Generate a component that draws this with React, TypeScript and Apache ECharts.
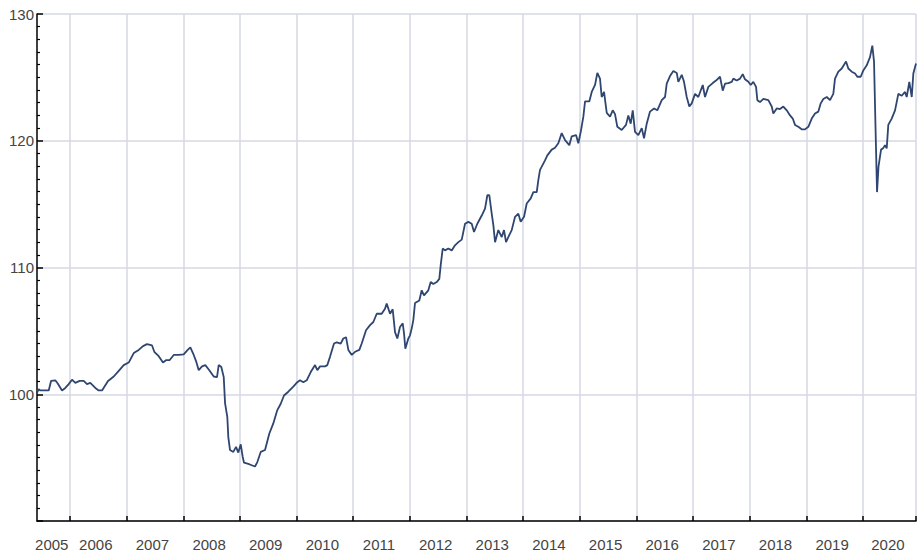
import React, { useEffect, useRef } from "react";
import * as echarts from "echarts";

// decimal year of each observation
const dates: number[] = [
  2005.417, 2005.447, 2005.476, 2005.564, 2005.624, 2005.665, 2005.740, 2005.783, 2005.859, 2005.917,
  2005.977, 2006.035, 2006.094, 2006.171, 2006.242, 2006.300, 2006.358, 2006.447, 2006.507, 2006.565,
  2006.671, 2006.772, 2006.860, 2006.948, 2007.036, 2007.125, 2007.213, 2007.289, 2007.359, 2007.448,
  2007.488, 2007.566, 2007.642, 2007.700, 2007.760, 2007.831, 2007.919, 2008.007, 2008.078, 2008.124,
  2008.184, 2008.230, 2008.272, 2008.331, 2008.389, 2008.449, 2008.537, 2008.595, 2008.625, 2008.671,
  2008.714, 2008.737, 2008.777, 2008.795, 2008.825, 2008.883, 2008.931, 2008.971, 2009.014, 2009.049,
  2009.072, 2009.148, 2009.208, 2009.266, 2009.307, 2009.367, 2009.443, 2009.519, 2009.589, 2009.660,
  2009.720, 2009.778, 2009.854, 2009.942, 2010.013, 2010.061, 2010.119, 2010.179, 2010.250, 2010.326,
  2010.366, 2010.414, 2010.502, 2010.543, 2010.590, 2010.661, 2010.709, 2010.779, 2010.825, 2010.873,
  2010.914, 2010.974, 2011.032, 2011.108, 2011.150, 2011.226, 2011.297, 2011.355, 2011.415, 2011.503,
  2011.561, 2011.591, 2011.650, 2011.697, 2011.738, 2011.779, 2011.826, 2011.874, 2011.897, 2011.920,
  2011.973, 2012.003, 2012.033, 2012.061, 2012.091, 2012.167, 2012.209, 2012.250, 2012.326, 2012.368,
  2012.414, 2012.474, 2012.520, 2012.545, 2012.580, 2012.621, 2012.679, 2012.739, 2012.797, 2012.856,
  2012.916, 2012.974, 2013.032, 2013.092, 2013.133, 2013.191, 2013.269, 2013.327, 2013.368, 2013.403,
  2013.445, 2013.474, 2013.504, 2013.562, 2013.622, 2013.662, 2013.698, 2013.738, 2013.798, 2013.857,
  2013.915, 2013.957, 2014.016, 2014.063, 2014.134, 2014.180, 2014.240, 2014.268, 2014.298, 2014.386,
  2014.427, 2014.505, 2014.563, 2014.621, 2014.681, 2014.740, 2014.815, 2014.858, 2014.934, 2014.974,
  2015.017, 2015.063, 2015.093, 2015.168, 2015.211, 2015.269, 2015.310, 2015.357, 2015.387, 2015.428,
  2015.476, 2015.534, 2015.582, 2015.622, 2015.663, 2015.740, 2015.816, 2015.857, 2015.899, 2015.935,
  2015.975, 2016.034, 2016.094, 2016.134, 2016.182, 2016.240, 2016.311, 2016.369, 2016.447, 2016.505,
  2016.535, 2016.593, 2016.652, 2016.712, 2016.740, 2016.800, 2016.840, 2016.888, 2016.934, 2016.976,
  2017.035, 2017.093, 2017.171, 2017.211, 2017.270, 2017.347, 2017.405, 2017.476, 2017.524, 2017.564,
  2017.623, 2017.683, 2017.711, 2017.771, 2017.829, 2017.877, 2017.917, 2017.976, 2018.018, 2018.064,
  2018.112, 2018.135, 2018.182, 2018.241, 2018.329, 2018.389, 2018.417, 2018.477, 2018.535, 2018.594,
  2018.654, 2018.712, 2018.760, 2018.800, 2018.858, 2018.918, 2018.977, 2019.035, 2019.095, 2019.153,
  2019.212, 2019.254, 2019.300, 2019.360, 2019.418, 2019.476, 2019.506, 2019.565, 2019.625, 2019.701,
  2019.741, 2019.801, 2019.860, 2019.900, 2019.960, 2020.006, 2020.066, 2020.124, 2020.165, 2020.195,
  2020.221, 2020.248, 2020.274, 2020.319, 2020.354, 2020.389, 2020.419, 2020.447, 2020.507, 2020.566,
  2020.624, 2020.684, 2020.742, 2020.772, 2020.818, 2020.861, 2020.889, 2020.936,
];

const values: number[] = [
  100.1, 100.4, 100.3, 100.3, 100.3, 101.05, 101.1, 100.85, 100.3, 100.5,
  100.8, 101.15, 100.9, 101.05, 101.05, 100.8, 100.9, 100.5, 100.3, 100.3,
  101.05, 101.4, 101.85, 102.3, 102.5, 103.25, 103.5, 103.8, 103.95, 103.85,
  103.35, 103.0, 102.5, 102.7, 102.7, 103.1, 103.1, 103.15, 103.5, 103.7,
  103.1, 102.55, 101.9, 102.2, 102.3, 101.95, 101.4, 101.35, 102.3, 102.15,
  101.35, 99.3, 98.2, 96.6, 95.6, 95.45, 95.85, 95.4, 96.05, 95.05,
  94.6, 94.5, 94.4, 94.3, 94.65, 95.45, 95.6, 96.9, 97.7, 98.75,
  99.25, 99.9, 100.2, 100.6, 100.95, 101.1, 100.95, 101.1, 101.75, 102.3,
  101.9, 102.2, 102.2, 102.3, 102.95, 104.0, 104.1, 104.0, 104.4, 104.5,
  103.5, 103.1, 103.35, 103.5, 104.0, 105.05, 105.45, 105.7, 106.35, 106.35,
  106.75, 107.15, 106.35, 106.7, 104.9, 104.4, 105.3, 105.6, 104.8, 103.6,
  104.4, 104.65, 105.2, 105.85, 107.2, 107.4, 108.2, 107.8, 108.2, 108.85,
  108.7, 108.85, 109.1, 110.2, 111.5, 111.35, 111.5, 111.35, 111.75, 112.0,
  112.2, 113.45, 113.6, 113.45, 112.8, 113.45, 114.1, 114.65, 115.7, 115.7,
  114.25, 113.35, 112.0, 112.95, 112.4, 112.95, 112.0, 112.4, 112.95, 114.0,
  114.25, 113.6, 114.0, 115.05, 115.45, 115.95, 115.95, 116.9, 117.7, 118.45,
  118.85, 119.3, 119.45, 119.8, 120.6, 120.05, 119.65, 120.35, 120.45, 119.8,
  120.7, 121.9, 123.1, 123.1, 123.85, 124.4, 125.35, 124.9, 123.45, 123.85,
  122.2, 121.9, 122.4, 122.1, 121.1, 120.85, 121.25, 122.0, 121.35, 122.4,
  120.7, 120.45, 121.0, 120.2, 121.35, 122.3, 122.55, 122.4, 123.2, 123.45,
  124.5, 125.1, 125.5, 125.35, 124.65, 125.2, 124.65, 123.45, 122.7, 122.95,
  123.7, 123.45, 124.4, 123.45, 124.25, 124.55, 124.75, 125.05, 123.95, 124.5,
  124.55, 124.65, 124.9, 124.75, 124.9, 125.25, 124.85, 124.65, 124.4, 124.65,
  124.25, 123.2, 123.05, 123.3, 123.2, 122.7, 122.15, 122.55, 122.5, 122.7,
  122.4, 122.0, 121.75, 121.25, 121.1, 120.9, 120.9, 121.1, 121.75, 122.15,
  122.3, 122.95, 123.3, 123.45, 123.2, 123.7, 124.9, 125.45, 125.7, 126.25,
  125.7, 125.45, 125.3, 125.05, 125.05, 125.55, 125.95, 126.6, 127.5, 126.25,
  121.1, 115.95, 117.95, 119.3, 119.4, 119.65, 119.4, 121.25, 121.75, 122.4,
  123.7, 123.55, 123.85, 123.45, 124.65, 123.45, 125.3, 126.1,
];

// year boundaries (grid lines) and year labels
const yearTicks: number[] = [
  2006, 2007, 2008, 2009, 2010, 2011, 2012, 2013, 2014, 2015, 2016, 2017, 2018, 2019, 2020, 2020.936,
];
const yearLabelPositions: number[] = [
  2005.677, 2006.455, 2007.455, 2008.455, 2009.455, 2010.455, 2011.455, 2012.455, 2013.455,
  2014.455, 2015.455, 2016.455, 2017.455, 2018.455, 2019.455, 2020.44,
];
const yLabels: number[] = [100, 110, 120, 130];

export default function App() {
  const ref = useRef<HTMLDivElement>(null);
  useEffect(() => {
    if (!ref.current) return;
    const chart = echarts.init(ref.current, null, { renderer: "svg" });
    const gridColor = "#d6d8e4";
    const font = "'Liberation Sans', Arial, sans-serif";
    chart.setOption({
      animation: false,
      backgroundColor: "#ffffff",
      grid: { left: 37, right: 8, top: 14, bottom: 35, containLabel: false },
      xAxis: {
        type: "value",
        min: dates[0],
        max: dates[dates.length - 1],
        axisLine: { show: true, onZero: false, lineStyle: { color: "#000", width: 1.5 } },
        axisTick: {
          show: true,
          inside: true,
          length: 5,
          customValues: yearTicks,
          lineStyle: { color: "#000", width: 1.5 },
        },
        splitLine: { show: true, lineStyle: { color: gridColor, width: 1.5 } },
        axisLabel: {
          customValues: yearLabelPositions,
          formatter: (v: number) => String(Math.floor(v)),
          color: "#444",
          fontSize: 15,
          fontFamily: font,
          margin: 16,
        },
      },
      yAxis: {
        type: "value",
        min: 90,
        max: 130,
        interval: 10,
        axisLine: { show: true, onZero: false, lineStyle: { color: "#000", width: 1.5 } },
        axisTick: { show: true, inside: true, length: 6, lineStyle: { color: "#000", width: 1.5 } },
        minorTick: { show: true, splitNumber: 10, length: 3, lineStyle: { color: "#000", width: 1.2 } },
        splitLine: { show: true, lineStyle: { color: gridColor, width: 1.5 } },
        axisLabel: {
          customValues: yLabels,
          color: "#444",
          fontSize: 15,
          fontFamily: font,
          margin: 3,
        },
      },
      series: [
        {
          type: "line",
          data: dates.map((d, i) => [d, values[i]]),
          showSymbol: false,
          symbol: "none",
          lineStyle: { color: "#2f4670", width: 1.8 },
          clip: true,
        },
      ],
    });
    return () => chart.dispose();
  }, []);
  return (
    <div
      ref={ref}
      style={{ position: "fixed", left: 0, top: 0, width: 924, height: 556, background: "#fff" }}
    />
  );
}
